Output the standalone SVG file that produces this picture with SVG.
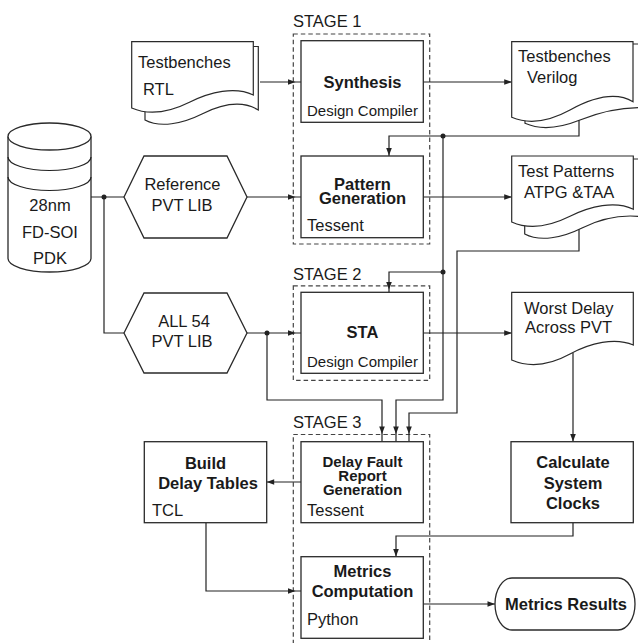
<svg xmlns="http://www.w3.org/2000/svg" xmlns:xlink="http://www.w3.org/1999/xlink" width="638" height="643" viewBox="0 0 638 643">
<style>
  .box{fill:#fff;stroke:#2a2a2a;stroke-width:1.3}
  .doc{fill:#fff;stroke:#2a2a2a;stroke-width:1.2}
  .stage{fill:none;stroke:#444;stroke-width:1.2;stroke-dasharray:4.5 3}
  .ln{fill:none;stroke:#222;stroke-width:1.2}
  .ah{fill:#222}
  .dot{fill:#222}
  text{font-family:"Liberation Sans",Arial,Helvetica,sans-serif;fill:#1a1a1a}
  .t{font-size:16.5px}
  .s{font-size:15px}
  .b{font-size:16.5px;font-weight:bold}
  .bs{font-size:15px;font-weight:bold}
  .c{text-anchor:middle}
</style>
<defs>
  <path id="ah" d="M0,0 L-7.5,-2.8 L-7.5,2.8 Z"/>
</defs>
<rect width="638" height="643" fill="#fff"/>

<g id="stages">
  <rect class="stage" x="293.3" y="34" width="136.4" height="210"/>
  <text class="t" x="293" y="27">STAGE 1</text>
  <rect class="stage" x="293.3" y="285.8" width="136.4" height="94.5"/>
  <text class="t" x="293" y="280">STAGE 2</text>
  <rect class="stage" x="293.3" y="434.5" width="136.4" height="216"/>
  <text class="t" x="293" y="428">STAGE 3</text>
</g>

<g id="connectors">
  <path class="ln" d="M91,197 H124"/>
  <path class="ln" d="M104,197 V333 H124"/>
  <path class="ln" d="M247,197 H301"/>
  <path class="ln" d="M260,82 H301"/>
  <path class="ln" d="M423.3,82 H511.7"/>
  <path class="ln" d="M423.3,197 H511.7"/>
  <path class="ln" d="M247,333 H301"/>
  <path class="ln" d="M267,333 V400 H382 V441.7"/>
  <path class="ln" d="M579,120 V136 H389 V156"/>
  <path class="ln" d="M443,136 V400 H396 V441.7"/>
  <path class="ln" d="M443,272 H389 V292.3"/>
  <path class="ln" d="M579,229 V251 H457 V413 H409 V441.7"/>
  <path class="ln" d="M423.3,333 H511.7"/>
  <path class="ln" d="M573,353 V441.7"/>
  <path class="ln" d="M573,522.7 V536 H396 V556.7"/>
  <path class="ln" d="M301,482 H266.7"/>
  <path class="ln" d="M206,522.7 V591 H301"/>
  <path class="ln" d="M423.3,604 H495"/>
  <circle class="dot" cx="104" cy="197" r="2.5"/>
  <circle class="dot" cx="267" cy="333" r="2.5"/>
  <circle class="dot" cx="443" cy="136" r="2.5"/>
  <circle class="dot" cx="443" cy="272" r="2.5"/>
  <use class="ah" xlink:href="#ah" href="#ah" transform="translate(295.5,197)"/>
  <use class="ah" xlink:href="#ah" href="#ah" transform="translate(295.5,82)"/>
  <use class="ah" xlink:href="#ah" href="#ah" transform="translate(511.7,82)"/>
  <use class="ah" xlink:href="#ah" href="#ah" transform="translate(511.7,197)"/>
  <use class="ah" xlink:href="#ah" href="#ah" transform="translate(295.5,333)"/>
  <use class="ah" xlink:href="#ah" href="#ah" transform="translate(382,434) rotate(90)"/>
  <use class="ah" xlink:href="#ah" href="#ah" transform="translate(389,155.5) rotate(90)"/>
  <use class="ah" xlink:href="#ah" href="#ah" transform="translate(396,434) rotate(90)"/>
  <use class="ah" xlink:href="#ah" href="#ah" transform="translate(389,289.5) rotate(90)"/>
  <use class="ah" xlink:href="#ah" href="#ah" transform="translate(409,434) rotate(90)"/>
  <use class="ah" xlink:href="#ah" href="#ah" transform="translate(511.7,333)"/>
  <use class="ah" xlink:href="#ah" href="#ah" transform="translate(573,441.5) rotate(90)"/>
  <use class="ah" xlink:href="#ah" href="#ah" transform="translate(396,556.5) rotate(90)"/>
  <use class="ah" xlink:href="#ah" href="#ah" transform="translate(266.7,482) rotate(180)"/>
  <use class="ah" xlink:href="#ah" href="#ah" transform="translate(295.5,591)"/>
  <use class="ah" xlink:href="#ah" href="#ah" transform="translate(495,604)"/>
</g>

<g id="pdk">
  <path class="box" d="M8,136.5 V258.5 A41.5,13.5 0 0 0 91,258.5 V136.5"/>
  <ellipse class="box" cx="49.5" cy="136.5" rx="41.5" ry="13.5"/>
  <path class="ln" d="M8,157 A41.5,13.5 0 0 0 91,157"/>
  <path class="ln" d="M8,177 A41.5,13.5 0 0 0 91,177"/>
  <text class="t c" x="50" y="211">28nm</text>
  <text class="t c" x="50" y="238">FD-SOI</text>
  <text class="t c" x="50" y="264">PDK</text>
</g>

<g id="testbenches-rtl">
  <path class="doc" d="M145,120 C160,128 182,124 202,114 C222,104 242,100 258.3,110 V46.5 H145 Z"/>
  <path class="doc" d="M131.7,108 C150,116 170,112 190,102 C210,92 235,86 253.3,95 V41.7 H131.7 Z"/>
  <text class="t" x="138" y="68">Testbenches</text>
  <text class="t" x="143" y="95">RTL</text>
</g>

<g id="reference-lib">
  <polygon class="box" points="124,197 144,156 227,156 247,197 227,238 144,238"/>
  <text class="t c" x="182.5" y="190">Reference</text>
  <text class="t c" x="182" y="211">PVT LIB</text>
</g>

<g id="all-lib">
  <polygon class="box" points="124,333 144,293 227,293 247,333 227,373 144,373"/>
  <text class="t c" x="184" y="327">ALL 54</text>
  <text class="t c" x="182" y="347">PVT LIB</text>
</g>

<g id="synthesis">
  <rect class="box" x="301" y="40.7" width="122.3" height="81.6"/>
  <text class="b c" x="362.5" y="88">Synthesis</text>
  <text class="s" x="307" y="116">Design Compiler</text>
</g>

<g id="pattern-generation">
  <rect class="box" x="301" y="156" width="122.3" height="81.7"/>
  <text class="b c" x="362.5" y="189.5">Pattern</text>
  <text class="b c" x="362.5" y="203.5">Generation</text>
  <text class="t" x="307" y="231">Tessent</text>
</g>

<g id="sta">
  <rect class="box" x="301" y="292.3" width="122.3" height="81"/>
  <text class="b c" x="362.5" y="338">STA</text>
  <text class="s" x="307" y="367">Design Compiler</text>
</g>

<g id="testbenches-verilog">
  <path class="doc" d="M525,123.3 C540,130 560,128 580,120 C600,112 625,106 650,108 V44 H525 Z"/>
  <path class="doc" d="M511.7,117.3 C530,125 550,121 570,110 C590,99 615,91 633,101.7 V41.7 H511.7 Z"/>
  <text class="t" x="518" y="62">Testbenches</text>
  <text class="t" x="527" y="83">Verilog</text>
</g>

<g id="test-patterns">
  <path class="doc" d="M524.7,234 C540,242 562,238 582,228 C602,218 625,213 650,218 V159 H524.7 Z"/>
  <path class="doc" d="M511.7,222 C530,230.3 550,226.3 570,216.3 C590,206.3 615,200.3 633.3,209.3 V156 H511.7 Z"/>
  <text class="t" x="518" y="177">Test Patterns</text>
  <text class="t" x="524" y="198">ATPG &amp;TAA</text>
</g>

<g id="worst-delay">
  <path class="doc" d="M511.7,360 C530,368 550,365 570,354 C590,343 615,337 633.3,345 V292.3 H511.7 Z"/>
  <text class="t" x="524" y="314">Worst Delay</text>
  <text class="t" x="525" y="333">Across PVT</text>
</g>

<g id="delay-fault">
  <rect class="box" x="301" y="441.7" width="122.3" height="81"/>
  <text class="bs c" x="362.5" y="466.5">Delay Fault</text>
  <text class="bs c" x="362.5" y="480.5">Report</text>
  <text class="bs c" x="362.5" y="495">Generation</text>
  <text class="t" x="307" y="516">Tessent</text>
</g>

<g id="build-delay-tables">
  <rect class="box" x="144.3" y="441.7" width="122.4" height="81"/>
  <text class="b c" x="205.5" y="469">Build</text>
  <text class="b c" x="208" y="489">Delay Tables</text>
  <text class="t" x="152" y="516">TCL</text>
</g>

<g id="calculate-clocks">
  <rect class="box" x="511" y="441.7" width="122.3" height="81"/>
  <text class="b c" x="573" y="468">Calculate</text>
  <text class="b c" x="573" y="489">System</text>
  <text class="b c" x="573" y="509">Clocks</text>
</g>

<g id="metrics-computation">
  <rect class="box" x="301" y="556.7" width="122.3" height="81.6"/>
  <text class="b c" x="362.5" y="577">Metrics</text>
  <text class="b c" x="362.5" y="597">Computation</text>
  <text class="t" x="307" y="625">Python</text>
</g>

<g id="metrics-results">
  <rect class="box" x="495" y="578" width="140" height="52" rx="17" ry="26"/>
  <text class="b c" x="566" y="610">Metrics Results</text>
</g>
</svg>
